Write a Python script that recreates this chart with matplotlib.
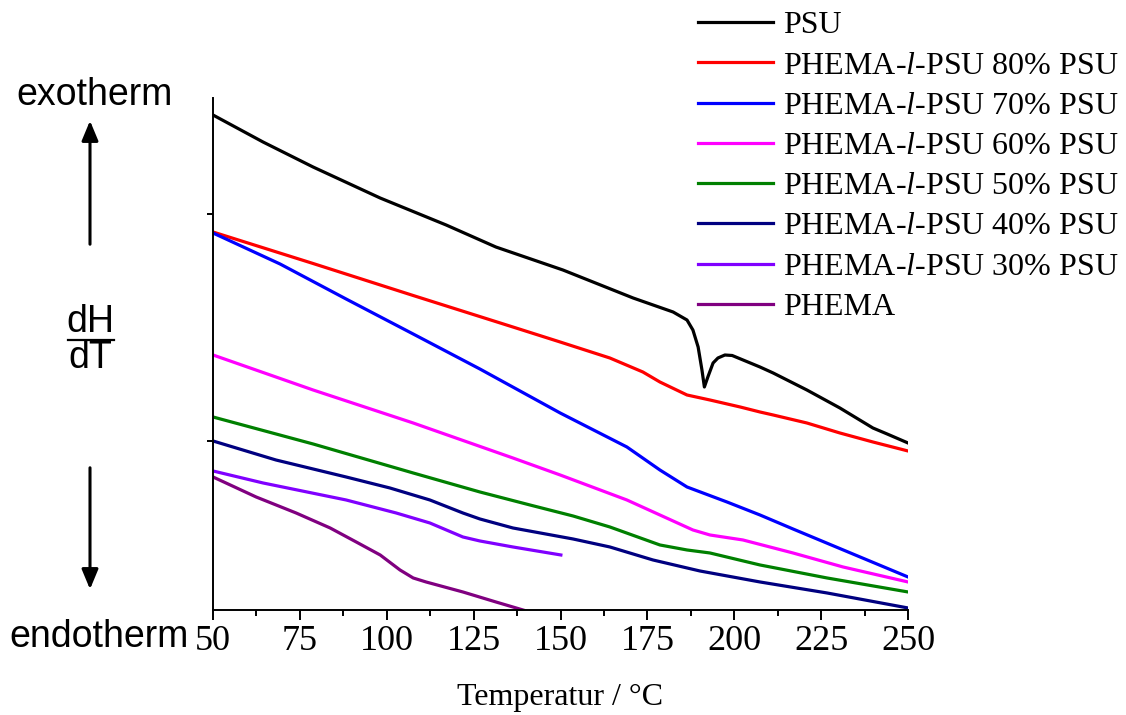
import numpy as np
import matplotlib
matplotlib.use("Agg")
import matplotlib.pyplot as plt
from matplotlib.ticker import MultipleLocator
from matplotlib.lines import Line2D

plt.rcParams['mathtext.fontset'] = 'custom'
plt.rcParams['mathtext.it'] = 'Liberation Serif:italic'
plt.rcParams['mathtext.rm'] = 'Liberation Serif'

# DSC traces (heat flow in arbitrary units)
psu_T = [50, 64.4, 78.8, 98.1, 117.1, 131.4, 150.7, 170.9, 182.4, 186.4, 188.1, 189.6, 190.7,
         191.4, 192.4, 193.9, 195.3, 197.3, 199.4, 207.4, 211.2, 220.9, 230.4, 239.9, 244.0, 250]
psu_y = [9.90, 9.36, 8.86, 8.24, 7.70, 7.26, 6.80, 6.24, 5.96, 5.80, 5.60, 5.26, 4.80,
         4.46, 4.66, 4.94, 5.04, 5.10, 5.09, 4.86, 4.74, 4.40, 4.04, 3.64, 3.52, 3.34]

p80_T = [50, 78.8, 107.6, 136.3, 149.9, 164.2, 173.7, 178.6, 186.4, 193.0, 201.7, 207.4,
         211.2, 220.9, 230.4, 239.9, 250]
p80_y = [7.56, 6.93, 6.29, 5.66, 5.36, 5.04, 4.76, 4.56, 4.30, 4.20, 4.06, 3.96,
         3.90, 3.74, 3.54, 3.36, 3.18]

p70_T = [50, 69.3, 88.3, 107.6, 126.8, 149.9, 169.1, 178.6, 186.4, 191.0, 197.9, 207.4,
         216.9, 236.2, 250]
p70_y = [7.54, 6.92, 6.22, 5.52, 4.82, 3.94, 3.26, 2.80, 2.46, 2.34, 2.16, 1.90,
         1.62, 1.06, 0.66]

p60_T = [50, 78.8, 107.6, 136.3, 149.9, 169.1, 178.6, 188.1, 193.0, 202.5, 216.9, 231.3, 250]
p60_y = [5.10, 4.40, 3.74, 3.04, 2.70, 2.20, 1.90, 1.60, 1.50, 1.40, 1.14, 0.86, 0.56]

p50_T = [50, 78.8, 107.6, 126.8, 141.2, 153.6, 164.2, 178.6, 186.4, 193.0, 207.4, 226.7, 250]
p50_y = [3.86, 3.32, 2.74, 2.36, 2.10, 1.88, 1.66, 1.30, 1.20, 1.14, 0.90, 0.64, 0.36]

p40_T = [50, 68.1, 88.3, 100.9, 112.4, 121.9, 126.8, 136.3, 153.6, 164.2, 176.6, 190.1,
         207.4, 226.7, 250]
p40_y = [3.38, 3.00, 2.66, 2.44, 2.20, 1.94, 1.82, 1.64, 1.42, 1.26, 1.00, 0.78,
         0.56, 0.34, 0.04]

p30_T = [50, 64.4, 88.3, 102.7, 112.4, 121.9, 126.8, 136.3, 150.1]
p30_y = [2.78, 2.54, 2.20, 1.94, 1.74, 1.46, 1.38, 1.26, 1.10]

phema_T = [50, 62.4, 73.9, 83.7, 91.2, 98.1, 103.8, 107.6, 111.3, 121.9, 131.4, 142.1]
phema_y = [2.66, 2.26, 1.94, 1.64, 1.36, 1.10, 0.80, 0.64, 0.56, 0.36, 0.16, -0.06]

labels = ['PSU',
          'PHEMA-$\\it{l}$-PSU 80% PSU',
          'PHEMA-$\\it{l}$-PSU 70% PSU',
          'PHEMA-$\\it{l}$-PSU 60% PSU',
          'PHEMA-$\\it{l}$-PSU 50% PSU',
          'PHEMA-$\\it{l}$-PSU 40% PSU',
          'PHEMA-$\\it{l}$-PSU 30% PSU',
          'PHEMA']
series = [(psu_T, psu_y), (p80_T, p80_y), (p70_T, p70_y), (p60_T, p60_y),
          (p50_T, p50_y), (p40_T, p40_y), (p30_T, p30_y), (phema_T, phema_y)]
colors = ['black', '#ff0000', '#0000ff', '#ff00ff', '#008000', '#000080', '#8000ff', '#800080']

fig = plt.figure(figsize=(11.26, 7.15), dpi=100)
ax = fig.add_axes([0.1892, 0.1469, 0.6172, 0.716])

for (T, y), c, lab in zip(series, colors, labels):
    ax.plot(T, y, color=c, lw=2.3, label=lab, solid_joinstyle='round')

ax.set_xlim(50, 250)
ax.set_ylim(0, 10.24)
ax.spines['top'].set_visible(False)
ax.spines['right'].set_visible(False)
for s in ['left', 'bottom']:
    ax.spines[s].set_linewidth(1.4)

ax.xaxis.set_major_locator(MultipleLocator(25))
ax.xaxis.set_minor_locator(MultipleLocator(12.5))
ax.tick_params(axis='x', which='major', direction='out', length=7, width=1.4, pad=4,
               labelsize=26)
ax.tick_params(axis='x', which='minor', direction='out', length=4, width=1.4)
ax.set_yticks([3.38, 7.92])
ax.tick_params(axis='y', direction='out', length=4, width=1.4, labelleft=False)
for lbl in ax.get_xticklabels():
    lbl.set_fontfamily('Liberation Serif')

ax.set_xlabel('Temperatur / °C', fontsize=23, fontfamily='Liberation Serif', labelpad=18)

# left side annotations
W, H = 1126.0, 715.0
def fx(px):
    return px / W
def fy(py):
    return (H - py) / H

fig.text(fx(95), fy(95), 'exotherm', fontsize=27, fontfamily='Liberation Sans',
         ha='center', va='center')
fig.text(fx(99), fy(637), 'endotherm', fontsize=27, fontfamily='Liberation Sans',
         ha='center', va='center')
fig.text(fx(90), fy(322), 'dH', fontsize=27, fontfamily='Liberation Sans',
         ha='center', va='center')
fig.text(fx(90), fy(358), 'dT', fontsize=27, fontfamily='Liberation Sans',
         ha='center', va='center')
fig.add_artist(Line2D([fx(68), fx(114)], [fy(340), fy(340)], color='black', lw=1.6,
                      transform=fig.transFigure))
fig.add_artist(matplotlib.patches.FancyArrowPatch((fx(90), fy(247)), (fx(90), fy(118)),
               transform=fig.transFigure, arrowstyle='-|>,head_length=12,head_width=5',
               color='black', lw=2.2))
fig.add_artist(matplotlib.patches.FancyArrowPatch((fx(90), fy(465)), (fx(90), fy(592)),
               transform=fig.transFigure, arrowstyle='-|>,head_length=12,head_width=5',
               color='black', lw=2.2))

leg = fig.legend(loc='upper left', bbox_to_anchor=(fx(698), fy(11)), frameon=False,
                 prop={'family': 'Liberation Serif', 'size': 23},
                 handlelength=2.35, handletextpad=0.3, labelspacing=0.34,
                 borderpad=0, borderaxespad=0)
for h in leg.get_lines():
    h.set_linewidth(2.3)

fig.savefig('out.png', dpi=100)
